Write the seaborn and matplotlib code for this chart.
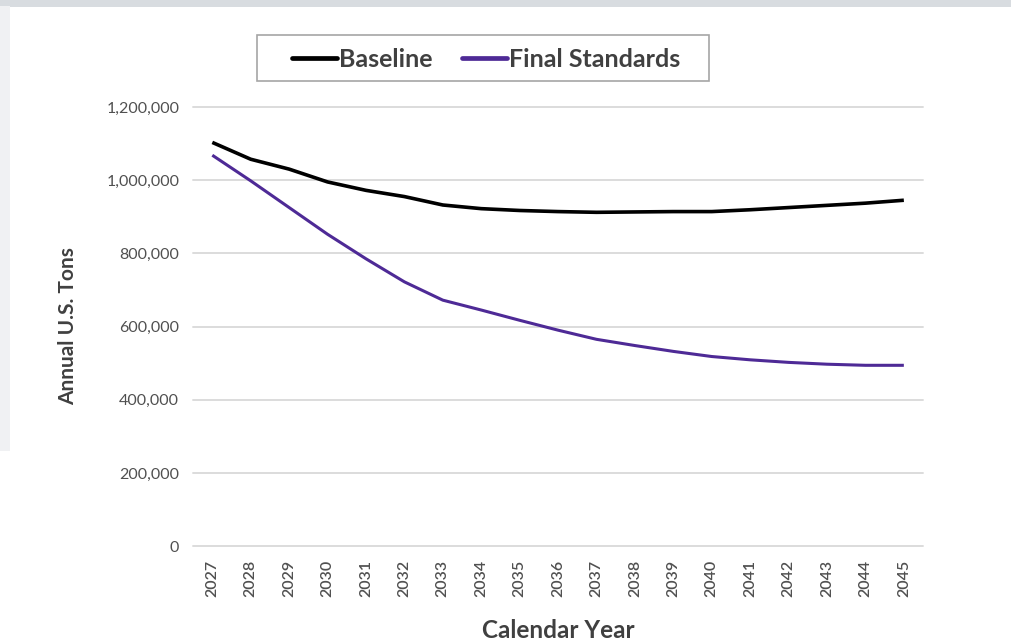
import numpy as np
import pandas as pd
import matplotlib.pyplot as plt
from matplotlib.patches import Rectangle
import seaborn as sns

years = list(range(2027, 2046))
baseline = [1103000, 1057000, 1030000, 995000, 972000, 955000, 932000, 922000, 917000, 914000,
            912000, 913000, 914000, 914000, 919000, 925000, 931000, 937000, 945000]
final_standards = [1068000, 998000, 925000, 852000, 785000, 722000, 672000, 645000, 617000, 590000,
                   565000, 548000, 532000, 518000, 509000, 502000, 497000, 494000, 494000]
series_names = ['Baseline', 'Final Standards']
series_colors = ['#000000', '#4E2A96']
y_ticks = [0, 200000, 400000, 600000, 800000, 1000000, 1200000]

df = pd.DataFrame({
    'Year': [str(y) for y in years] * 2,
    'Tons': baseline + final_standards,
    'Series': [series_names[0]] * len(years) + [series_names[1]] * len(years),
})

sns.set_style('white')
plt.rcParams['font.family'] = ['Lato', 'DejaVu Sans']

fig = plt.figure(figsize=(10.11, 6.44), dpi=100)
fig.patch.set_facecolor('white')
# blurred page frame around the card
fig.patches.append(Rectangle((0, 0.989), 1, 0.011, transform=fig.transFigure,
                             facecolor='#d8dce0', edgecolor='none', zorder=0))
fig.patches.append(Rectangle((0, 0.3), 0.01, 0.69, transform=fig.transFigure,
                             facecolor='#f0f1f3', edgecolor='none', zorder=0))

ax = fig.add_axes([0.191, 0.152, 0.722, 0.682])
sns.lineplot(data=df, x='Year', y='Tons', hue='Series', palette=series_colors,
             sort=False, ax=ax, legend=False)
for line, lw in zip(ax.lines, [2.6, 2.2]):
    line.set_linewidth(lw)
    line.set_solid_capstyle('butt')

ax.set_xlim(-0.5, len(years) - 0.5)
ax.set_ylim(0, 1200000)
ax.set_yticks(y_ticks)
ax.set_yticklabels([f'{v:,}' for v in y_ticks], fontsize=11.5, color='#505050')
ax.set_xticks(range(len(years)))
ax.set_xticklabels([str(y) for y in years], rotation=90, fontsize=11.5, color='#505050',
                   fontweight='semibold')
ax.tick_params(axis='both', length=0, pad=10)
ax.yaxis.grid(True, color='#dcdcdc', linewidth=1.4)
for gl in ax.yaxis.get_gridlines():
    gl.set_clip_on(False)
ax.set_axisbelow(True)
for s in ax.spines.values():
    s.set_visible(False)

ax.set_xlabel('Calendar Year', fontsize=17.5, fontweight='bold', color='#404040', labelpad=16)
ax.set_ylabel('Annual U.S. Tons', fontsize=15, fontweight='bold', color='#404040', labelpad=20)

# legend box (frame drawn separately for Excel-style wide padding)
fig.patches.append(Rectangle((257 / 1011, 1 - 81 / 644), 452 / 1011, 46 / 644,
                             transform=fig.transFigure, facecolor='white',
                             edgecolor='#a6a6a6', linewidth=1.2, zorder=1))
handles = [plt.Line2D([], [], color=c, lw=3.4) for c in series_colors]
leg = fig.legend(handles, series_names, loc='center', bbox_to_anchor=(0.481, 0.908),
                 ncol=2, frameon=False, handlelength=1.8,
                 handletextpad=0.08, columnspacing=1.2, borderpad=0.2, borderaxespad=0,
                 prop={'weight': 'bold', 'size': 18})
for t in leg.get_texts():
    t.set_color('#404040')

fig.savefig('out.png', dpi=100)
